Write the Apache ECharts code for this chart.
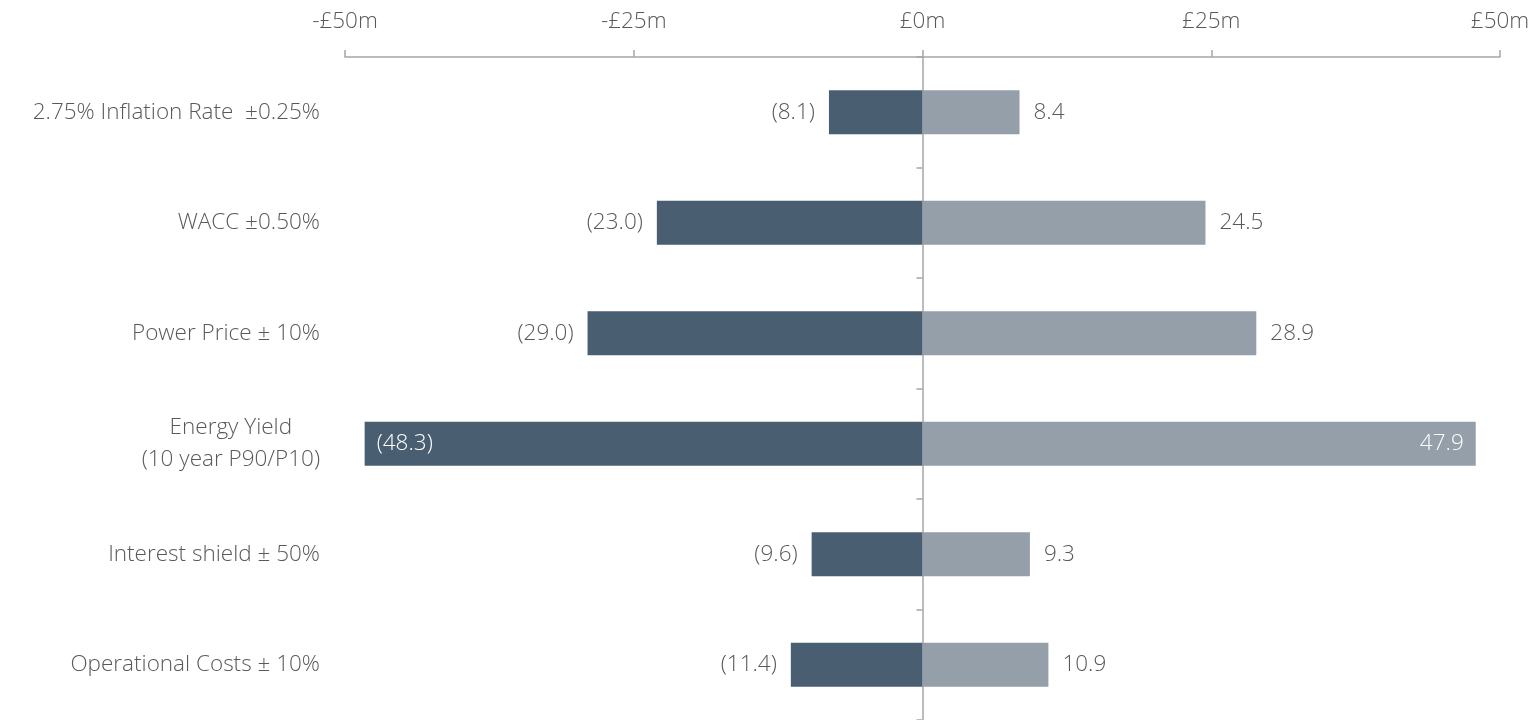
<!DOCTYPE html>
<html>
<head>
<meta charset="utf-8">
<script src="https://cdn.jsdelivr.net/npm/echarts@6/dist/echarts.min.js"></script>
<style>
  html, body { margin: 0; padding: 0; background: #fff; }
  #chart { width: 1539px; height: 720px; }
</style>
</head>
<body>
<div id="chart"></div>
<script>
// sensitivity categories, top to bottom
const categories = [
    '2.75% Inflation Rate  ±0.25%',
    'WACC ±0.50%',
    'Power Price ± 10%',
    '{c|Energy Yield}\n{c|(10 year P90/P10)}',
    'Interest shield ± 50%',
    'Operational Costs ± 10%'
];
// downside and upside impact (£m)
const downside = [-8.1, -23.0, -29.0, -48.3, -9.6, -11.4];
const upside = [8.4, 24.5, 28.9, 47.9, 9.3, 10.9];
const xTicks = [-50, -25, 0, 25, 50];

const FONT = '"Open Sans", "Segoe UI", sans-serif';
const SIZE = 22.5;
const TEXT = '#595959';
const AXIS = '#a6a6a6';

const chart = echarts.init(document.getElementById('chart'));

// biggest bar gets its label inside, in white
const downData = downside.map((v, i) => i === 3 ? {
    value: v,
    label: { position: 'insideLeft', color: '#fff', distance: 12 }
} : v);
const upData = upside.map((v, i) => i === 3 ? {
    value: v,
    label: { position: 'insideRight', color: '#fff', distance: 12 }
} : v);

const option = {
    animation: false,
    grid: { left: 345, right: 39, top: 57, height: 666 },
    xAxis: {
        type: 'value',
        position: 'top',
        min: xTicks[0],
        max: xTicks[xTicks.length - 1],
        interval: 25,
        splitLine: { show: false },
        axisLine: { show: true, lineStyle: { color: AXIS, width: 1.5 } },
        axisTick: { show: true, length: 7, lineStyle: { color: AXIS, width: 1.5 } },
        axisLabel: {
            margin: 24,
            fontFamily: FONT,
            fontWeight: 300,
            fontSize: SIZE,
            color: TEXT,
            formatter: v => (v < 0 ? '-£' + Math.abs(v) : '£' + v) + 'm'
        }
    },
    yAxis: [
        {
            type: 'category',
            data: categories,
            inverse: true,
            axisLine: { show: false },
            axisTick: { show: false },
            axisLabel: {
                margin: 25,
                fontFamily: FONT,
                fontWeight: 300,
                fontSize: SIZE,
                color: TEXT,
                lineHeight: 32,
                rich: {
                    c: { align: 'center', fontFamily: FONT, fontWeight: 300, fontSize: SIZE, color: TEXT, lineHeight: 32 }
                }
            }
        },
        {
            type: 'category',
            data: categories,
            inverse: true,
            position: 'left',
            offset: -577.5,
            axisLine: { show: true, lineStyle: { color: AXIS, width: 1.5 } },
            axisTick: { show: true, length: 6, lineStyle: { color: AXIS, width: 1.5 } },
            axisLabel: { show: false }
        }
    ],
    series: [
        {
            type: 'bar',
            stack: 'tornado',
            data: downData,
            barWidth: '40%',
            itemStyle: { color: '#4a5e72' },
            label: {
                show: true,
                position: 'left',
                distance: 14,
                fontFamily: FONT,
                fontWeight: 300,
                fontSize: SIZE,
                color: TEXT,
                formatter: p => '(' + Math.abs(p.value).toFixed(1) + ')'
            }
        },
        {
            type: 'bar',
            stack: 'tornado',
            data: upData,
            barWidth: '40%',
            itemStyle: { color: '#959fa9' },
            label: {
                show: true,
                position: 'right',
                distance: 14,
                fontFamily: FONT,
                fontWeight: 300,
                fontSize: SIZE,
                color: TEXT,
                formatter: p => p.value.toFixed(1)
            }
        }
    ]
};

chart.setOption(option);
</script>
</body>
</html>
